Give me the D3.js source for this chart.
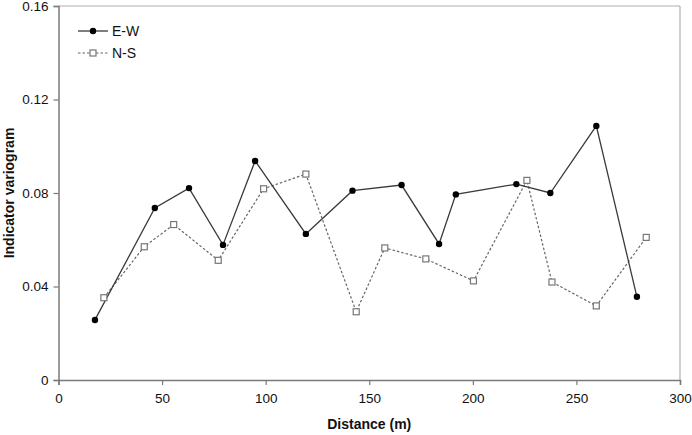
<!DOCTYPE html>
<html>
<head>
<meta charset="utf-8">
<script src="https://cdn.jsdelivr.net/npm/d3@7"></script>
<style>
  body { margin: 0; background: #fff; }
  svg { display: block; font-family: "Liberation Sans", Arial, sans-serif; }
</style>
</head>
<body>
<div id="chart"></div>
<script>
// E-W direction
var ewDist = [17.6, 46.5, 63, 79.4, 94.9, 119.4, 141.9, 165.6, 183.7, 191.8, 221, 237.4, 259.6, 279.2];
var ewGamma = [0.0257, 0.0736, 0.0821, 0.0578, 0.0937, 0.0625, 0.081, 0.0834, 0.0582, 0.0794, 0.0838, 0.08, 0.1087, 0.0356];

// N-S direction
var nsDist = [21.9, 41.4, 55.6, 77.1, 99, 119.4, 143.7, 157.5, 177.3, 200.3, 226.1, 238.2, 259.6, 283.7];
var nsGamma = [0.0352, 0.057, 0.0665, 0.0512, 0.0818, 0.0881, 0.0292, 0.0565, 0.0518, 0.0424, 0.0854, 0.0419, 0.0317, 0.061];

var xTicks = [0, 50, 100, 150, 200, 250, 300];
var yTicks = [0, 0.04, 0.08, 0.12, 0.16];
var seriesNames = ["E-W", "N-S"];

var width = 692, height = 435;
var margin = {left: 58.5, right: 12, top: 6, bottom: 55};

var svg = d3.select("#chart").append("svg")
	.attr("width", width)
	.attr("height", height);

var x = d3.scaleLinear().domain([0, 300]).range([margin.left, width - margin.right]);
var y = d3.scaleLinear().domain([0, 0.16]).range([height - margin.bottom, margin.top]);

var axisColor = "#7a7a7a";

//frame top and right
svg.append("line")
	.attr("x1", x(0)).attr("x2", x(300))
	.attr("y1", y(0.16)).attr("y2", y(0.16))
	.attr("stroke", "#b0b0b0").attr("stroke-width", 1.2);
svg.append("line")
	.attr("x1", x(300)).attr("x2", x(300))
	.attr("y1", y(0.16)).attr("y2", y(0))
	.attr("stroke", "#b0b0b0").attr("stroke-width", 1.2);

var xAxis = svg.append("g")
	.attr("transform", "translate(0," + y(0) + ")")
	.call(d3.axisBottom(x).tickValues(xTicks).tickSize(5).tickPadding(8).tickFormat(d3.format("d")));

var yAxis = svg.append("g")
	.attr("transform", "translate(" + x(0) + ",0)")
	.call(d3.axisLeft(y).tickValues(yTicks).tickSize(5).tickPadding(5)
		.tickFormat(function(d){ return d === 0 ? "0" : d3.format(".2f")(d); }));

[xAxis, yAxis].forEach(function(g)
{
	g.select(".domain").attr("stroke", axisColor).attr("stroke-width", 1.5);
	g.selectAll(".tick line").attr("stroke", axisColor).attr("stroke-width", 1.2);
	g.selectAll(".tick text")
		.attr("fill", "#111")
		.style("font-size", "13.5px")
		.style("font-family", "'Liberation Sans', Arial, sans-serif");
});

//axis titles
svg.append("text")
	.attr("x", x(150))
	.attr("y", 429)
	.attr("text-anchor", "middle")
	.style("font-size", "14px")
	.style("font-weight", "bold")
	.attr("fill", "#111")
	.text("Distance (m)");

svg.append("text")
	.attr("transform", "translate(14," + y(0.08) + ") rotate(-90)")
	.attr("text-anchor", "middle")
	.style("font-size", "14px")
	.style("font-weight", "bold")
	.attr("fill", "#111")
	.text("Indicator variogram");

var line = d3.line()
	.x(function(d){ return x(d[0]); })
	.y(function(d){ return y(d[1]); });

var ewData = ewDist.map(function(d, i){ return [d, ewGamma[i]]; });
var nsData = nsDist.map(function(d, i){ return [d, nsGamma[i]]; });

svg.append("path")
	.datum(nsData)
	.attr("d", line)
	.attr("fill", "none")
	.attr("stroke", "#666")
	.attr("stroke-width", 1.2)
	.attr("stroke-dasharray", "2.5,2");

svg.append("path")
	.datum(ewData)
	.attr("d", line)
	.attr("fill", "none")
	.attr("stroke", "#3a3a3a")
	.attr("stroke-width", 1.3);

svg.append("g").selectAll("rect")
	.data(nsData)
	.enter()
		.append("rect")
			.attr("x", function(d){ return x(d[0]) - 3; })
			.attr("y", function(d){ return y(d[1]) - 3; })
			.attr("width", 6)
			.attr("height", 6)
			.attr("fill", "#fff")
			.attr("stroke", "#777")
			.attr("stroke-width", 1.2);

svg.append("g").selectAll("circle")
	.data(ewData)
	.enter()
		.append("circle")
			.attr("cx", function(d){ return x(d[0]); })
			.attr("cy", function(d){ return y(d[1]); })
			.attr("r", 3.2)
			.attr("fill", "#000");

//legend
var legend = svg.append("g").attr("transform", "translate(78,31)");

legend.append("line")
	.attr("x1", 0).attr("x2", 30).attr("y1", 0).attr("y2", 0)
	.attr("stroke", "#3a3a3a").attr("stroke-width", 1.3);
legend.append("circle")
	.attr("cx", 15).attr("cy", 0).attr("r", 3.2).attr("fill", "#000");
legend.append("text")
	.attr("x", 34).attr("y", 5)
	.style("font-size", "14px").attr("fill", "#111")
	.text(seriesNames[0]);

legend.append("line")
	.attr("x1", 0).attr("x2", 30).attr("y1", 22).attr("y2", 22)
	.attr("stroke", "#666").attr("stroke-width", 1.2).attr("stroke-dasharray", "2.5,2");
legend.append("rect")
	.attr("x", 12).attr("y", 19).attr("width", 6).attr("height", 6)
	.attr("fill", "#fff").attr("stroke", "#777").attr("stroke-width", 1.2);
legend.append("text")
	.attr("x", 34).attr("y", 27)
	.style("font-size", "14px").attr("fill", "#111")
	.text(seriesNames[1]);
</script>
</body>
</html>
